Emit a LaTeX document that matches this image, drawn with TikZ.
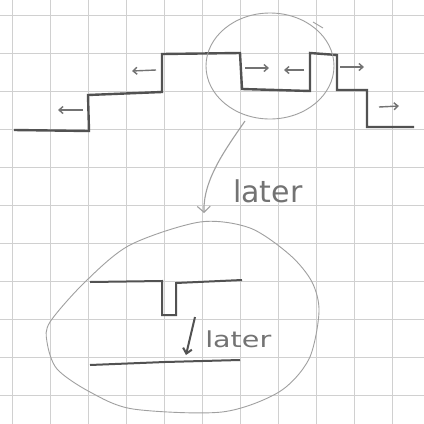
\documentclass[tikz,border=0pt]{standalone}
\usepackage{fontspec}
\setmainfont{DejaVu Sans}
\usetikzlibrary{arrows.meta,shapes.geometric}
\definecolor{gridc}{RGB}{208,208,208}
\definecolor{ink}{RGB}{82,82,82}
\definecolor{pen}{RGB}{115,115,115}
\definecolor{loopc}{RGB}{160,160,160}
\begin{document}
\begin{tikzpicture}[x=1pt,y=-1pt,
  gridline/.style={gridc, line width=0.8pt},
  stair/.style={ink, line width=2.4pt, line join=miter},
  hint/.style={pen, line width=1.4pt, -{Straight Barb[length=4pt,width=7pt]}},
  loopline/.style={loopc, line width=0.9pt},
  word/.style={text=pen, font=\fontsize{30}{30}\selectfont, inner sep=0pt, anchor=base west}]
\useasboundingbox (0,0) rectangle (424,424);
\fill[white] (0,0) rectangle (424,424);
\foreach \i in {0,...,10} {
  \draw[gridline] (12+38*\i,0) -- (12+38*\i,424);
  \draw[gridline] (0,15+38*\i) -- (424,15+38*\i);
}
% staircase
\draw[stair] (14,130) -- (89,131) -- (88,95) -- (162,92) -- (162,54) -- (240,53) -- (242,89) -- (310,91) -- (310,53) -- (337,55) -- (337,90) -- (367,90) -- (367,127) -- (414,127);
% small direction arrows
\draw[hint] (83,110) -- (58,110);
\draw[hint] (156,70) -- (132,71);
\draw[hint] (245,68) -- (269,68);
\draw[hint] (304,70) -- (284,70);
\draw[hint] (340,67) -- (364,67);
\draw[hint] (379,107) -- (399,106);
% lens circle
\node[ellipse, draw, loopline, minimum width=128pt, minimum height=106pt, inner sep=0pt] (lens) at (270,66) {};
\draw[loopline] (313,22) -- (323,28);
% connector
\coordinate (c0) at (245,121);
\coordinate (c1) at (204,213);
\draw[loopline, line width=1.1pt, -{Straight Barb[length=6pt,width=13pt]}] (c0) .. controls (225,150) and (203,180) .. (c1);
\node[word] (t1) at (233,202) {later};
% bottom ellipse
\draw[loopline] plot[smooth cycle] coordinates {(200,222) (250,228) (290,255) (312,282) (319,312) (309,359) (279,392) (222,412) (133,409) (90,392) (57,369) (47,342) (50,322) (85,282) (130,245)};
% inner sketch
\draw[stair, line width=2pt] (90,282) -- (162,281) -- (162,315) -- (176,315) -- (176,283) -- (242,280);
\draw[ink, line width=2pt, -{Straight Barb[length=5pt,width=9pt]}] (195,317) -- (186,355);
\node[word, font=\fontsize{22}{22}\selectfont, xscale=1.3] (t2) at (205,347) {later};
\draw[stair, line width=2pt] (90,365) -- (165,362) -- (240,360);
\end{tikzpicture}
\end{document}
